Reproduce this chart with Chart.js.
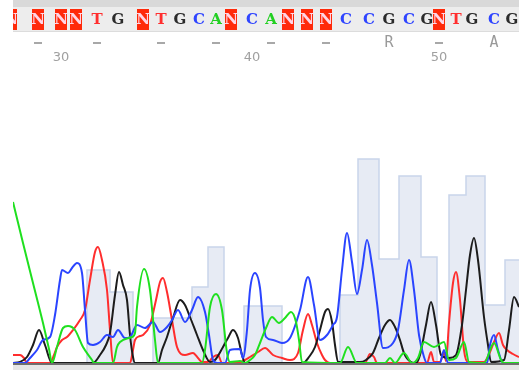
<!DOCTYPE html>
<html>
<head>
<meta charset="utf-8">
<script src="https://cdn.jsdelivr.net/npm/chart.js@4/dist/chart.umd.min.js"></script>
<style>
  html, body { margin: 0; padding: 0; background: #fff; }
  #cvg { display: block; }
</style>
</head>
<body>
<canvas id="cvg" width="519" height="370"></canvas>
<script>
// base calls along the top
var baseNums  = [28,29,30,31,32,33,34,35,36,37,38,39,40,41,42,43,44,45,46,47,48,49,50,51,52,53,54];
var baseCalls = ['N','N','N','N','T','G','N','T','G','C','A','N','C','A','N','N','N','C','C','G','C','G','N','T','G','C','G'];
var basePos   = [11,38,61,76,97,118,143,161,180,199,216,231,252,271,288,307,326,346,369,389,409,427,439,456,472,494,512];

// translation row (one mark per codon) and ruler numbers
var aaBase  = [29,32,35,38,41,44,47,50,53];
var aaCalls = ['-','-','-','-','-','-','R','-','A'];
var tickLabels = [30,40,50];

// quality bars (left edge of each step, value)
var qualScan = [13,87,110,133,153,192,208,224,244,282,340,358,379,399,421,437,449,466,485,505,519];
var qualVal  = [0,93,71,0,45,76,116,0,57,0,68,204,104,187,106,0,168,187,58,103,103];

// traces: A green, C blue, G black, T red
var aScan = [13,23,33,43,49,52,57,63,68,75,83,92,94,113,117,120,132,135,137,144,150,155,158,202,205,210,216,222,227,230,240,245,250,255,260,266,272,279,285,291,296,299,302,340,348,357,385,390,395,404,412,418,424,434,444,449,456,464,469,484,494,501,504,519];
var aSig  = [161,120,80,40,14,0,16,35,37,33,16,3,0,0,16,21,26,30,56,94,73,23,0,0,13,56,69,53,10,1,2,0,3,8,20,35,46,40,45,51,41,23,1,0,16,0,0,5,0,10,0,5,21,16,21,3,5,21,1,0,20,3,0,0];

var cScan = [13,25,30,37,43,50,55,60,62,68,72,77,82,85,88,93,100,107,113,118,125,130,137,145,153,160,167,172,178,185,192,198,205,209,213,217,225,230,240,243,247,250,255,260,263,266,273,282,290,300,308,314,320,327,333,337,342,347,352,357,362,367,372,377,383,393,398,404,409,414,419,424,427,440,444,448,487,490,494,498,503,519];
var cSig  = [0,0,5,13,23,26,48,83,93,90,95,100,90,53,20,18,21,28,26,33,25,26,38,35,41,31,36,43,53,41,53,66,51,28,3,0,0,13,14,5,33,73,90,75,43,26,23,20,25,53,86,58,23,28,38,46,93,130,101,69,93,123,98,60,15,20,33,73,103,73,28,6,0,0,13,0,0,18,28,13,0,0];

var gScan = [13,20,27,33,39,45,52,93,100,106,110,115,119,123,127,130,133,135,158,162,167,173,180,185,190,197,203,210,215,223,228,233,238,242,245,303,309,315,320,325,328,332,335,338,360,366,373,379,385,390,395,400,404,411,416,420,426,431,436,441,449,456,462,466,470,474,478,484,488,491,504,509,514,519];
var gSig  = [0,1,6,18,33,18,0,0,8,18,30,68,91,78,63,28,6,0,0,13,26,45,63,58,46,28,13,1,3,16,25,33,25,8,0,0,6,16,33,51,54,41,18,1,1,3,10,25,38,43,36,23,10,1,0,8,38,61,38,8,5,8,38,73,108,125,103,46,18,1,3,33,66,56];

var tScan = [13,20,24,27,50,54,57,62,67,73,80,85,90,95,98,102,107,110,113,130,133,135,140,143,150,156,160,163,167,172,177,185,193,198,202,208,213,218,222,238,245,250,258,265,273,282,290,298,303,308,312,317,322,325,330,365,370,374,377,427,431,434,440,444,446,449,453,456,460,464,468,484,490,494,499,503,507,513,519];
var tSig  = [8,8,5,0,0,8,16,23,26,33,43,53,83,111,116,103,73,33,0,0,13,23,27,28,38,63,81,85,71,43,16,8,10,5,1,1,6,8,0,0,3,6,11,15,8,5,3,10,33,49,38,20,8,3,0,0,9,6,0,0,11,1,1,11,2,40,80,91,63,13,1,1,11,21,30,18,13,9,6];

function pts(xs, ys){
	var out = [];
	for (var i = 0; i < xs.length; i++) out.push({x: xs[i], y: ys[i]});
	return out;
}

function trace(label, xs, ys, color){
	return {
		label: label,
		data: pts(xs, ys),
		borderColor: color,
		borderWidth: 2,
		pointRadius: 0,
		fill: false,
		cubicInterpolationMode: 'monotone',
		order: 1
	};
}

var letterColor = { A: '#22d022', C: '#2f45ff', G: '#2b2b2b', T: '#ff2e2e' };

// header strip, base calls, ruler, baseline
var chromaDecor = {
	id: 'chromaDecor',
	beforeDraw: function(chart){
		var ctx = chart.ctx, xs = chart.scales.x, area = chart.chartArea;
		ctx.save();
		ctx.fillStyle = '#d9d9d9';
		ctx.fillRect(area.left, 0, area.right - area.left, 7);
		ctx.fillStyle = '#ededed';
		ctx.fillRect(area.left, 7, area.right - area.left, 24);
		ctx.fillStyle = '#dcdcdc';
		ctx.fillRect(area.left, 31, area.right - area.left, 1);

		ctx.beginPath();
		ctx.rect(area.left, 0, area.right - area.left, 70);
		ctx.clip();

		ctx.textAlign = 'center';
		ctx.textBaseline = 'middle';
		for (var i = 0; i < baseCalls.length; i++){
			var px = xs.getPixelForValue(basePos[i]);
			var b = baseCalls[i];
			if (b === 'N'){
				ctx.fillStyle = '#ff2a0a';
				ctx.fillRect(px - 6, 9, 12, 21);
				ctx.fillStyle = '#ffd6e6';
			} else {
				ctx.fillStyle = letterColor[b];
			}
			ctx.font = 'bold 15px "DejaVu Serif"';
			ctx.fillText(b, px, 20);
		}

		for (var j = 0; j < aaCalls.length; j++){
			var k = baseNums.indexOf(aaBase[j]);
			var ax = xs.getPixelForValue(basePos[k]);
			if (aaCalls[j] === '-'){
				ctx.fillStyle = '#a8a8a8';
				ctx.fillRect(ax - 4, 42, 8, 2);
			} else {
				ctx.fillStyle = '#9a9a9a';
				ctx.font = '15px "DejaVu Sans Mono"';
				ctx.fillText(aaCalls[j], ax, 43);
			}
		}

		ctx.fillStyle = '#a0a0a0';
		ctx.font = '13px "DejaVu Sans"';
		for (var t = 0; t < tickLabels.length; t++){
			var n = baseNums.indexOf(tickLabels[t]);
			ctx.fillText(String(tickLabels[t]), xs.getPixelForValue(basePos[n]), 58);
		}
		ctx.restore();
	},
	afterDatasetsDraw: function(chart){
		var ctx = chart.ctx, area = chart.chartArea;
		ctx.save();
		ctx.fillStyle = '#6e6e6e';
		ctx.fillRect(area.left, area.bottom, area.right - area.left, 2);
		ctx.fillStyle = '#e6e6e6';
		ctx.fillRect(area.left, area.bottom + 2, area.right - area.left, 5);
		ctx.restore();
	}
};

var cv = document.getElementById('cvg');
var ctx = cv.getContext('2d');

var chromaChart = new Chart(ctx, {
	type: 'line',
	data: {
		datasets: [
			trace('A', aScan, aSig, '#1fe01f'),
			trace('C', cScan, cSig, '#2a44ff'),
			trace('G', gScan, gSig, '#1c1c1c'),
			trace('T', tScan, tSig, '#ff2d2d'),
			{
				label: 'quality',
				data: pts(qualScan, qualVal),
				stepped: true,
				fill: 'origin',
				backgroundColor: '#e7ebf4',
				borderColor: '#c9d5ea',
				borderWidth: 1.5,
				pointRadius: 0,
				order: 10
			}
		]
	},
	options: {
		responsive: false,
		animation: false,
		layout: { padding: { left: 13, right: 0, top: 70, bottom: 7 } },
		plugins: { legend: { display: false }, tooltip: { enabled: false } },
		scales: {
			x: { type: 'linear', display: false, min: 13, max: 519 },
			y: { display: false, min: 0, max: 293 }
		}
	},
	plugins: [chromaDecor]
});
</script>
</body>
</html>
